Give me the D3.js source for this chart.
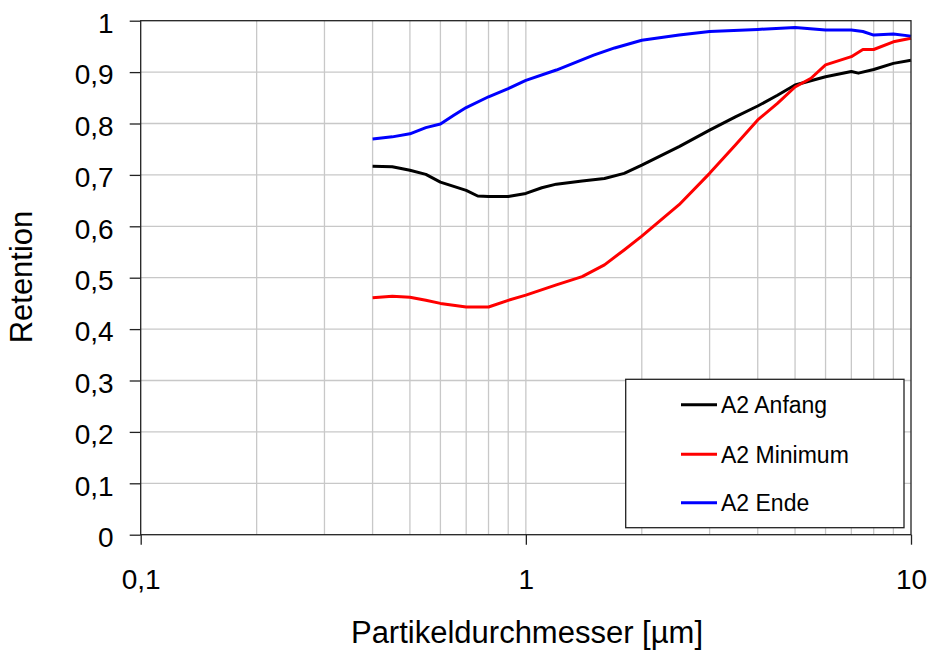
<!DOCTYPE html>
<html>
<head>
<meta charset="utf-8">
<script src="https://cdn.jsdelivr.net/npm/d3@7"></script>
<style>
  html, body { margin: 0; padding: 0; background: #fff; }
  svg { display: block; font-family: "Liberation Sans", Arial, sans-serif; }
</style>
</head>
<body>
<svg id="chart" width="932" height="650"></svg>
<script>
// Particle diameter (µm) sample points and retention per measurement state
const anfangX = [0.4, 0.45, 0.5, 0.55, 0.6, 0.7, 0.75, 0.8, 0.9, 1.0, 1.1, 1.2, 1.4, 1.6, 1.8, 2.0, 2.5, 3.0, 3.5, 4.0, 4.5, 5.0, 6.0, 7.0, 7.3, 8.0, 9.0, 10.0];
const anfangY = [0.717, 0.716, 0.709, 0.701, 0.686, 0.670, 0.659, 0.658, 0.658, 0.664, 0.675, 0.682, 0.688, 0.693, 0.703, 0.719, 0.755, 0.787, 0.813, 0.834, 0.855, 0.875, 0.891, 0.901, 0.898, 0.905, 0.917, 0.923];

const minimumX = [0.4, 0.45, 0.5, 0.55, 0.6, 0.7, 0.8, 0.9, 1.0, 1.2, 1.4, 1.6, 1.8, 2.0, 2.5, 3.0, 3.5, 4.0, 4.5, 5.0, 5.5, 6.0, 7.0, 7.5, 8.0, 9.0, 10.0];
const minimumY = [0.461, 0.464, 0.462, 0.456, 0.450, 0.443, 0.443, 0.456, 0.466, 0.486, 0.502, 0.525, 0.554, 0.581, 0.642, 0.703, 0.758, 0.807, 0.839, 0.871, 0.888, 0.914, 0.930, 0.944, 0.944, 0.959, 0.966];

const endeX = [0.4, 0.45, 0.5, 0.55, 0.6, 0.65, 0.7, 0.8, 0.9, 1.0, 1.2, 1.5, 1.7, 2.0, 2.5, 3.0, 4.0, 5.0, 6.0, 7.0, 7.5, 8.0, 9.0, 10.0];
const endeY = [0.770, 0.774, 0.780, 0.792, 0.799, 0.816, 0.831, 0.852, 0.868, 0.884, 0.904, 0.933, 0.947, 0.962, 0.972, 0.979, 0.983, 0.987, 0.982, 0.982, 0.979, 0.972, 0.974, 0.970];

const seriesNames = ["A2 Anfang", "A2 Minimum", "A2 Ende"];
const seriesColors = ["#000000", "#ff0000", "#0000ff"];

const xTickValues = [0.1, 1, 10];
const xTickLabels = ["0,1", "1", "10"];
const yTickValues = [0, 0.1, 0.2, 0.3, 0.4, 0.5, 0.6, 0.7, 0.8, 0.9, 1];
const yTickLabels = ["0", "0,1", "0,2", "0,3", "0,4", "0,5", "0,6", "0,7", "0,8", "0,9", "1"];

const xTitle = "Partikeldurchmesser [µm]";
const yTitle = "Retention";

const series = [
  { name: seriesNames[0], color: seriesColors[0], pts: anfangX.map((d, i) => [d, anfangY[i]]) },
  { name: seriesNames[1], color: seriesColors[1], pts: minimumX.map((d, i) => [d, minimumY[i]]) },
  { name: seriesNames[2], color: seriesColors[2], pts: endeX.map((d, i) => [d, endeY[i]]) }
];

const svg = d3.select("#chart");
const L = 140.7, R = 911, T = 20.7, B = 534.7;

const x = d3.scaleLog().domain([0.1, 10]).range([L, R]);
const y = d3.scaleLinear().domain([0, 1]).range([B, T]);

svg.append("rect").attr("width", 932).attr("height", 650).attr("fill", "#fff");

// grid
const minorX = [];
[0.1, 1].forEach(dec => { for (let k = 2; k <= 10; k++) minorX.push(dec * k); });
const gridX = minorX.filter(v => v < 10);
svg.append("g").selectAll("line").data(gridX).join("line")
  .attr("x1", d => x(d)).attr("x2", d => x(d))
  .attr("y1", T).attr("y2", B)
  .attr("stroke", "#c8c8c8").attr("stroke-width", 1.3);
svg.append("g").selectAll("line").data(yTickValues.filter(v => v > 0 && v < 1)).join("line")
  .attr("x1", L).attr("x2", R)
  .attr("y1", d => y(d)).attr("y2", d => y(d))
  .attr("stroke", "#c8c8c8").attr("stroke-width", 1.3);

// series lines
const line = d3.line().x(d => x(d[0])).y(d => y(d[1]));
svg.append("g").selectAll("path").data(series).join("path")
  .attr("d", d => line(d.pts))
  .attr("fill", "none")
  .attr("stroke", d => d.color)
  .attr("stroke-width", 3)
  .attr("stroke-linejoin", "round");

// frame
svg.append("rect").attr("x", L).attr("y", T).attr("width", R - L).attr("height", B - T)
  .attr("fill", "none").attr("stroke", "#222").attr("stroke-width", 1.3);

// axes
const yAxis = d3.axisLeft(y).tickValues(yTickValues).tickSize(11).tickPadding(16)
  .tickFormat((d, i) => yTickLabels[i]);
const gy = svg.append("g").attr("transform", `translate(${L},0)`).call(yAxis);
gy.select(".domain").remove();
gy.selectAll(".tick line").attr("stroke", "#222").attr("stroke-width", 1.3);
gy.selectAll(".tick text").attr("font-size", 28).attr("fill", "#000").attr("dy", "0.42em")
  .attr("font-family", "Liberation Sans, Arial, sans-serif");

const xAxis = d3.axisBottom(x).tickValues(xTickValues).tickSize(10).tickPadding(24)
  .tickFormat((d, i) => xTickLabels[i]);
const gx = svg.append("g").attr("transform", `translate(0,${B})`).call(xAxis);
gx.select(".domain").remove();
gx.selectAll(".tick line").attr("stroke", "#222").attr("stroke-width", 1.3);
gx.selectAll(".tick text").attr("font-size", 28).attr("fill", "#000")
  .attr("font-family", "Liberation Sans, Arial, sans-serif");

// titles
svg.append("text").attr("x", 527).attr("y", 643).attr("text-anchor", "middle")
  .attr("font-size", 31).attr("fill", "#000").text(xTitle);
svg.append("text").attr("transform", "translate(32,277) rotate(-90)").attr("text-anchor", "middle")
  .attr("font-size", 31).attr("fill", "#000").text(yTitle);

// legend
const lg = svg.append("g");
lg.append("rect").attr("x", 625.7).attr("y", 379.3).attr("width", 278.3).attr("height", 148.4)
  .attr("fill", "#fff").attr("stroke", "#222").attr("stroke-width", 1.3);
const legY = [404.7, 454.3, 502.7];
const items = lg.selectAll("g.item").data(series).join("g").attr("class", "item")
  .attr("transform", (d, i) => `translate(0,${legY[i]})`);
items.append("line").attr("x1", 681).attr("x2", 717).attr("y1", 0).attr("y2", 0)
  .attr("stroke", d => d.color).attr("stroke-width", 3);
items.append("text").attr("x", 721).attr("y", 8.3).attr("font-size", 23).attr("fill", "#000")
  .text(d => d.name);
</script>
</body>
</html>
